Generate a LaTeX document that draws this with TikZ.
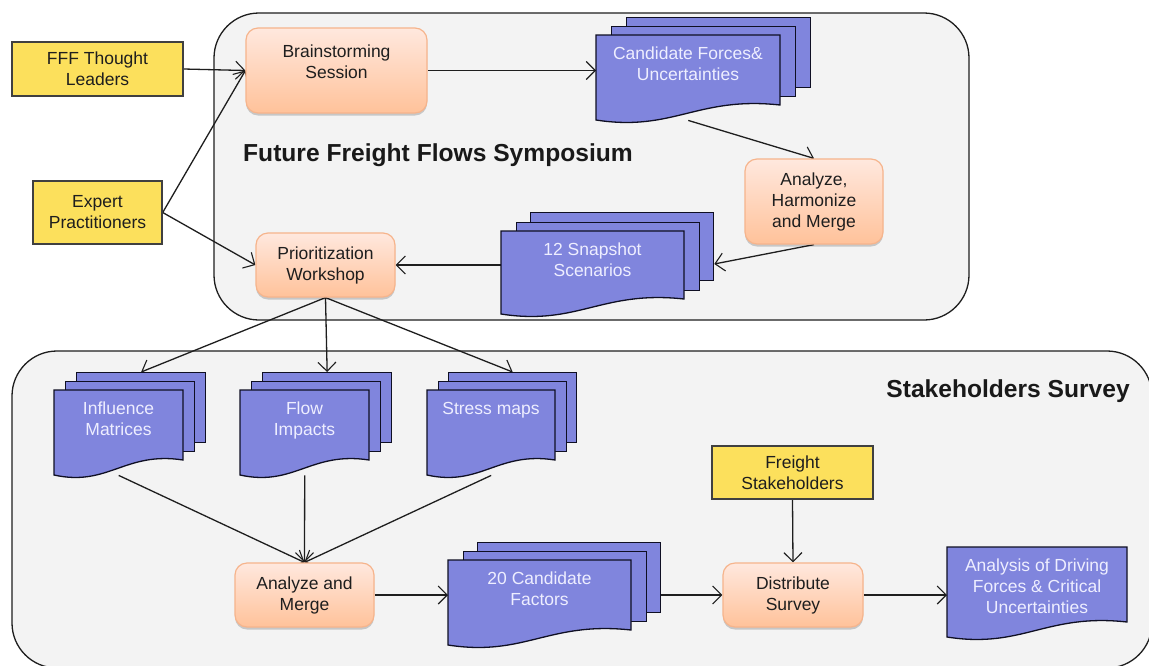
\documentclass[tikz,border=0pt]{standalone}
\usepackage{fontspec}
\setmainfont{Liberation Sans}
\usetikzlibrary{arrows.meta,calc,shadows}
\pgfdeclarelayer{bg}\pgfdeclarelayer{edges}
\pgfsetlayers{bg,edges,main}
\definecolor{docblue}{RGB}{128,133,221}
\definecolor{docline}{RGB}{15,15,35}
\definecolor{yel}{RGB}{252,224,92}
\definecolor{orTop}{RGB}{255,232,222}
\definecolor{orBot}{RGB}{255,194,154}
\definecolor{orLine}{RGB}{246,180,140}
\definecolor{panel}{RGB}{243,243,243}
\definecolor{ink}{RGB}{30,30,30}
\definecolor{doctext}{RGB}{238,238,255}
\tikzset{
 lbl/.style={font=\fontsize{17.5}{21}\selectfont, text=ink, align=center},
 srcbox/.style={lbl, draw=ink!85, line width=1.4pt, fill=yel, inner sep=0pt},
 procbox/.style={lbl, draw=orLine, line width=1.2pt, rounded corners=12pt, top color=orTop, bottom color=orBot, inner sep=0pt,
   drop shadow={shadow xshift=0pt, shadow yshift=-2.5pt, opacity=0.18, fill=black}},
 sheet/.style={draw=docline, line width=1.3pt, fill=docblue, inner sep=0pt, anchor=north west},
 docsh/.style={draw=docline, line width=1.3pt, fill=docblue},
 doctxt/.style={font=\fontsize{17.5}{21}\selectfont, text=doctext, align=center, inner sep=0pt, anchor=north},
 panelbox/.style={draw=ink, line width=1.3pt, fill=panel, rounded corners=45pt},
 titletext/.style={font=\bfseries\fontsize{24.6}{28}\selectfont, text=black!90, inner sep=0pt},
 arr/.style={draw=ink, line width=1.3pt, -{Straight Barb[scale=2.2, line width=1.1pt]}},
}
% #1 name, #2 x1, #3 x2, #4 top, #5 bottom-left, #6 dx, #7 dy, #8 back sheets (0 or 2), #9 text
\newcommand\docstack[9]{%
  \pgfmathsetmacro\dw{#3-#2}%
  \pgfmathsetmacro\dr{#5-15}%
  \pgfmathsetmacro\dh{\dr-#4}%
  \pgfmathsetmacro\dfull{#5-#4}%
  \ifnum#8>0
    \foreach \k in {#8,...,1}{%
      \node[sheet, minimum width=\dw, minimum height=\dh] (#1-b\k) at ({#2+\k*#6},{#4-\k*#7}) {};
    }%
  \fi
  \draw[docsh] (#2,#4) -- (#3,#4) -- (#3,\dr) .. controls ({#2+0.55*\dw},{#5-24}) and ({#2+0.42*\dw},{#5+12}) .. (#2,#5) -- cycle;
  \node[inner sep=0pt, minimum width=\dw, minimum height=\dfull, anchor=north west] (#1) at (#2,#4) {};
  \node[doctxt] (#1-t) at ({(#2+#3)/2},{#4+12}) {#9};
}
\begin{document}
\begin{tikzpicture}[x=1pt,y=-1pt]
\useasboundingbox (0,0) rectangle (1149,665);
\begin{pgfonlayer}{bg}
\fill[white] (0,0) rectangle (1149,665);
\path[panelbox] (214,13) rectangle (969,320);
\path[panelbox] (12,351) rectangle (1152,668);
\end{pgfonlayer}

% titles
\node[titletext, anchor=west] (t1) at (243,155) {Future Freight Flows Symposium};
\node[titletext, anchor=east] (t2) at (1130,391) {Stakeholders Survey};

% source boxes
\node[srcbox, minimum width=171pt, minimum height=54pt] (fff) at (97.5,69) {FFF Thought\\Leaders};
\node[srcbox, minimum width=129pt, minimum height=63pt] (expert) at (97.5,212.5) {Expert\\Practitioners};
\node[srcbox, minimum width=161pt, minimum height=53pt] (fs) at (792.5,472.5) {Freight\\Stakeholders};

% process boxes
\node[procbox, minimum width=181pt, minimum height=85pt] (brain) at (336.5,70.5) {};
\node[lbl, inner sep=0pt] (brain-t) at (336.5,61.5) {Brainstorming\\Session};
\node[procbox, minimum width=139pt, minimum height=64pt] (prio) at (325.5,265) {Prioritization\\Workshop};
\node[procbox, minimum width=138pt, minimum height=85pt] (ahm) at (814,201.5) {Analyze,\\Harmonize\\and Merge};
\node[procbox, minimum width=139pt, minimum height=64pt] (am) at (304.5,595) {Analyze and\\Merge};
\node[procbox, minimum width=140pt, minimum height=64pt] (ds) at (793,595) {Distribute\\Survey};

% documents
\docstack{cand}{596}{780}{35}{120}{15}{9}{2}{Candidate Forces\&\\Uncertainties}
\docstack{snap}{501}{684}{231}{314}{14.5}{9.5}{2}{12 Snapshot\\Scenarios}
\docstack{infl}{54}{183}{390}{475}{11}{9}{2}{Influence\\Matrices}
\docstack{flow}{240}{369}{390}{475}{11}{9}{2}{Flow\\Impacts}
\docstack{stress}{427}{555}{390}{475}{10.5}{9}{2}{Stress maps}
\docstack{c20}{448}{631}{560}{645}{14.5}{9}{2}{20 Candidate\\Factors}
\docstack{ana}{947}{1127}{547}{637}{0}{0}{0}{Analysis of Driving\\Forces \& Critical\\Uncertainties}

% connectors
\begin{pgfonlayer}{edges}
\draw[arr] (fff.east) -- (brain.west);
\draw[arr] (expert.east) -- (brain.west);
\draw[arr] (expert.east) -- (prio.west);
\draw[arr] (brain.east) -- (brain.east -| cand.west);
\draw[arr] (cand.south) -- (ahm.north);
\draw[arr] (ahm.south) -- ($(snap-b2.north east)!0.75!(snap-b2.south east)$);
\draw[arr] (prio.east -| snap.west) -- (prio.east);
\draw[arr] (prio.south) -- (infl-b2.north);
\draw[arr] (prio.south) -- (flow-b2.north);
\draw[arr] (prio.south) -- (stress-b2.north);
\draw[arr] (infl.south) -- (am.north);
\draw[arr] (flow.south) -- (am.north);
\draw[arr] (stress.south) -- (am.north);
\draw[arr] (am.east) -- (am.east -| c20.west);
\draw[arr] (c20-b2.east |- ds.west) -- (ds.west);
\draw[arr] (fs.south) -- (ds.north);
\draw[arr] (ds.east) -- (ds.east -| ana.west);
\end{pgfonlayer}
\end{tikzpicture}
\end{document}
